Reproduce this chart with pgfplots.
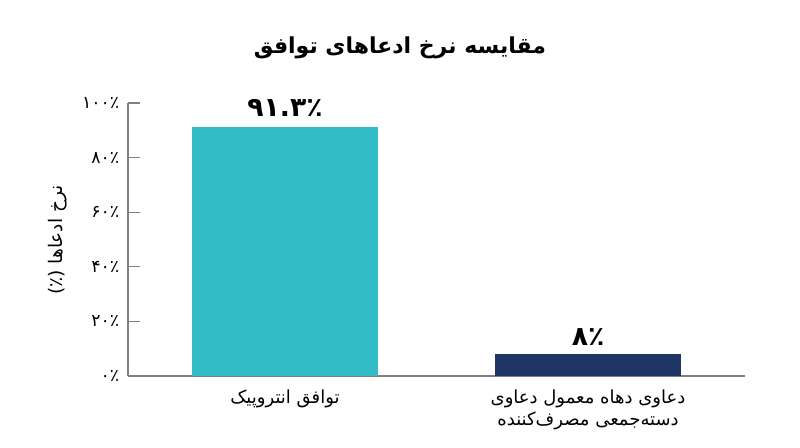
\documentclass[border=0pt]{standalone}
\usepackage{fontspec}
\usepackage{pgfplots}
\pgfplotsset{compat=1.18}
\TeXXeTstate=1
\setmainfont{DejaVu Sans}
\newfontfamily\arabicfont[Script=Arabic]{DejaVu Sans}
\definecolor{tealbar}{HTML}{32BDC6}
\definecolor{navybar}{HTML}{1F3566}
\definecolor{axisgray}{HTML}{808080}

\begin{document}
\begin{tikzpicture}
\path[use as bounding box] (-96pt,-53.25pt) rectangle (504pt,282pt);
\begin{axis}[
  at={(0pt,0pt)}, anchor=south west,
  scale only axis, width=462.75pt, height=204.75pt,
  xmin=-0.518, xmax=1.518, ymin=0, ymax=100,
  axis x line=bottom, axis y line=left,
  axis line style={axisgray, line width=0.8pt, -},
  clip=false,
  xtick={0,1},
  xticklabels={{\beginR توافق انتروپیک\endR},
    {\beginR دعاوی دهاه معمول دعاوی\endR\\\beginR دسته‌جمعی مصرف‌کننده\endR}},
  xticklabel style={font=\arabicfont\fontsize{13.5}{16.5}\selectfont, align=center, yshift=-7pt},
  xtick style={draw=none},
  ytick={0,20,40,60,80,100},
  yticklabels={۰٪,۲۰٪,۴۰٪,۶۰٪,۸۰٪,۱۰۰٪},
  yticklabel style={font=\arabicfont\fontsize{13}{15}\selectfont, xshift=-3pt},
  tick align=inside,
  major tick length=9pt,
  ytick style={axisgray, line width=0.8pt},
]
\addplot[ybar, bar shift=0pt, bar width=139.5pt, fill=tealbar, draw=none,
  point meta=explicit symbolic, nodes near coords,
  nodes near coords style={font=\arabicfont\bfseries\fontsize{20}{22}\selectfont, anchor=south, yshift=4pt}]
  coordinates {(0,91.3) [۹۱.۳٪]};
\addplot[ybar, bar shift=0pt, bar width=139.5pt, fill=navybar, draw=none,
  point meta=explicit symbolic, nodes near coords,
  nodes near coords style={font=\arabicfont\bfseries\fontsize{20}{22}\selectfont, anchor=south, yshift=3pt}]
  coordinates {(1,8) [۸٪]};
\end{axis}
\node[font=\arabicfont\bfseries\fontsize{16.5}{19}\selectfont] at (204pt,246pt)
  {\beginR مقایسه نرخ ادعاهای توافق\endR};
\node[font=\arabicfont\fontsize{14}{16}\selectfont, rotate=90] at (-52.5pt,102pt)
  {\beginR نرخ ادعاها (٪)\endR};
\end{tikzpicture}
\end{document}
